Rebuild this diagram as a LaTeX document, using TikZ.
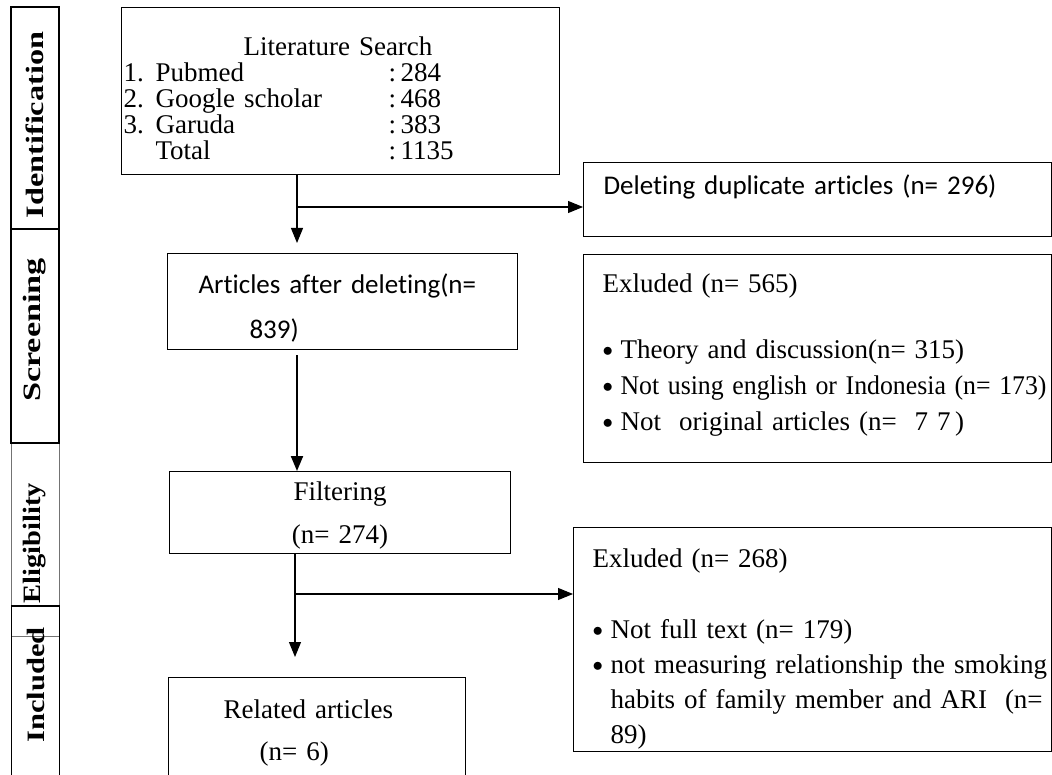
\documentclass[tikz,border=0pt]{standalone}
\usepackage{graphicx}
\usepackage{fontspec}
\setmainfont{Liberation Serif}
\newfontfamily\calibri[Ligatures=NoCommon]{Carlito}
\usetikzlibrary{positioning,arrows.meta,calc}
\newcommand{\itembul}{\makebox[18pt][l]{\raisebox{2.5pt}{\fontsize{20}{20}\selectfont$\bullet$}}}

\begin{document}
\begin{tikzpicture}[
  x=1pt, y={(0pt,-1pt)},
  box/.style={draw, line width=1.1pt, anchor=north west, inner ysep=0pt, align=left},
  times/.style={font={\fontsize{27}{36}\selectfont\lineskiplimit=-100pt}},
  cali/.style={font={\calibri\fontsize{27}{45}\selectfont\lineskiplimit=-100pt}},
  stage/.style={draw, line width=1.3pt, rotate=90, minimum height=48pt, inner sep=0pt,
    font=\fontsize{25}{25}\selectfont\bfseries},
  flow/.style={-{Triangle[length=15pt,width=12pt]}, line width=1.1pt},
  flowthick/.style={flow, line width=2pt}
]
\useasboundingbox (0,0) rectangle (1052,775);
% ---------- stage column ----------
\node[stage, draw=black!55, line width=1pt, minimum width=193pt] (elig) at (35,539.5)
  {\scalebox{1.14}[1]{Eligibility}\hspace*{7pt}};
\node[stage, minimum width=222pt] (ident) at (35,118) {\scalebox{1.29}[1]{Identification}\hspace*{14pt}};
\node[stage, minimum width=214pt] (screen) at (35,336) {\hspace*{12pt}\scalebox{1.37}[1]{Screening}};
\node[stage, minimum width=170pt] (incl) at (35.5,691) {\hspace*{12pt}\scalebox{1.22}[1]{Included}};
% ---------- main column ----------
\node[box, inner xsep=2pt, text width=434pt, text height=48pt, text depth=119pt,
  font={\fontsize{27}{26}\selectfont\lineskiplimit=-100pt}] (search) at (121,7) {%
  \hspace*{120pt}Literature Search\\
  \makebox[32pt][l]{1.}\makebox[233pt][l]{Pubmed}:\,284\\
  \makebox[32pt][l]{2.}\makebox[233pt][l]{Google scholar}:\,468\\
  \makebox[32pt][l]{3.}\makebox[233pt][l]{Garuda}:\,383\\
  \makebox[32pt][l]{}\makebox[233pt][l]{Total}:\,1135};
\node[box, cali, inner xsep=31pt, text width=288pt, text height=40pt, text depth=56pt] (articles) at (167,253)
  {Articles after deleting(n=\\\hspace*{51pt}839)};
\node[box, times, align=center, inner xsep=4pt, text width=333pt, text height=29pt, text depth=53pt,
  font={\fontsize{27}{43}\selectfont}] (filter) at (169,471) {Filtering\\(n= 274)};
\node[box, times, inner xsep=55pt, text width=187pt, text height=41pt, text depth=100pt,
  font={\fontsize{27}{42}\selectfont}] (related) at (168,677) {Related articles\\\hspace*{36pt}(n= 6)};
% ---------- side boxes ----------
\node[box, cali, inner xsep=20pt, text width=428pt, text height=32pt, text depth=42pt] (dup) at (583,162)
  {Deleting duplicate articles (n= 296)};
\node[box, times, inner xsep=19pt, text width=430pt, text height=38pt, text depth=170pt] (excl1) at (583,254) {%
  Exluded (n= 565)\\[30pt]
  \itembul Theory and discussion(n= 315)\\
  \mbox{\itembul\resizebox{426pt}{\height}{Not using english or Indonesia (n= 173)}}\\
  \itembul Not\ \ original articles (n=\ \ 7 7\,)};
\node[box, times, inner xsep=19pt, text width=440pt, text height=40pt, text depth=184pt,
  font={\fontsize{27}{35}\selectfont\lineskiplimit=-100pt}] (excl2) at (573,527) {%
  Exluded (n= 268)\\[36pt]
  \itembul Not full text (n= 179)\\
  \itembul\makebox[422pt][s]{not measuring relationship the smoking}\\
  \hspace*{18pt}\makebox[422pt][s]{habits of family member and ARI\ \ (n=}\\
  \hspace*{18pt}89)};
% ---------- arrows ----------
\coordinate (j1) at (297,207);
\coordinate (j2) at (295,594);
\draw[flow, shorten >=10pt] (search.south -| j1) -- (articles.north -| j1);
\draw[flow] (j1) -- (j1 -| dup.west);
\draw[flowthick, shorten <=5pt] (articles.south -| j1) -- (filter.north -| j1);
\draw[flow, shorten >=20pt] (filter.south -| j2) -- (related.north -| j2);
\draw[flow] (j2) -- (j2 -| excl2.west);
\end{tikzpicture}
\end{document}
